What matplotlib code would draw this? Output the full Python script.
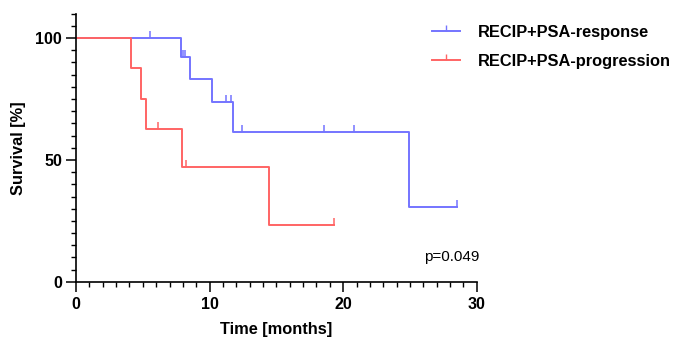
import matplotlib
matplotlib.use("Agg")
import matplotlib.pyplot as plt
from matplotlib.lines import Line2D
from matplotlib.ticker import MultipleLocator

plt.rcParams['font.family'] = ['Liberation Sans', 'DejaVu Sans']

# Kaplan-Meier step data (time in months, survival in %)
resp_times = [0, 7.83, 8.53, 10.15, 11.77, 24.9, 28.5]
resp_surv = [100, 92.3, 83.1, 73.8, 61.5, 30.8, 30.8]
resp_censor_t = [5.5, 8.0, 8.15, 11.2, 11.57, 12.46, 18.6, 20.8, 28.5]
resp_censor_s = [100, 92.3, 92.3, 73.8, 73.8, 61.5, 61.5, 61.5, 30.8]

prog_times = [0, 4.11, 4.86, 5.26, 7.9, 14.43, 19.32]
prog_surv = [100, 87.5, 75.0, 62.5, 46.9, 23.4, 23.4]
prog_censor_t = [6.16, 8.23, 19.32]
prog_censor_s = [62.5, 46.9, 23.4]

labels = ["RECIP+PSA-response", "RECIP+PSA-progression"]
blue = "#7474ff"
red = "#ff6464"

fig = plt.figure(figsize=(6.85, 3.48), dpi=100)
ax = fig.add_axes([0.111, 0.19, 0.585, 0.771])

ax.step(resp_times, resp_surv, where='post', color=blue, lw=1.4)
ax.plot(resp_censor_t, resp_censor_s, ls='none', marker=2, ms=5, mew=1.1, color=blue)
ax.step(prog_times, prog_surv, where='post', color=red, lw=1.4)
ax.plot(prog_censor_t, prog_censor_s, ls='none', marker=2, ms=5, mew=1.1, color=red)

ax.set_xlim(0, 30)
ax.set_ylim(0, 110)
ax.spines['top'].set_visible(False)
ax.spines['right'].set_visible(False)
ax.spines['left'].set_linewidth(1.2)
ax.spines['bottom'].set_linewidth(1.2)
ax.spines['left'].set_bounds(0, 110)
ax.spines['bottom'].set_bounds(0, 30)

ax.set_xticks([0, 10, 20, 30])
ax.set_yticks([0, 50, 100])
ax.xaxis.set_minor_locator(MultipleLocator(1))
ax.yaxis.set_minor_locator(MultipleLocator(5))
ax.tick_params(which='major', length=7, width=1.1, labelsize=11.5)
ax.tick_params(axis='x', which='major', pad=4)
ax.tick_params(axis='y', which='major', pad=3)
ax.tick_params(which='minor', length=3.6, width=1.0)
for t in ax.get_xticklabels() + ax.get_yticklabels():
    t.set_fontweight('bold')

ax.set_xlabel("Time [months]", fontsize=11.8, fontweight='bold', labelpad=7)
ax.set_ylabel("Survival [%]", fontsize=11.8, fontweight='bold', labelpad=7)

ax.text(30.2, 10.3, "p=0.049", ha='right', va='center', fontsize=11)

handles = [Line2D([], [], color=blue, lw=1.4, marker=2, ms=4, mew=1.0),
           Line2D([], [], color=red, lw=1.4, marker=2, ms=4, mew=1.0)]
leg = fig.legend(handles, labels, loc='upper left', bbox_to_anchor=(0.609, 0.971),
                 frameon=False, numpoints=1, handlelength=1.7, handletextpad=1.1,
                 labelspacing=0.85, prop={'weight': 'bold', 'size': 11.8})

fig.savefig("out.png", dpi=100)
